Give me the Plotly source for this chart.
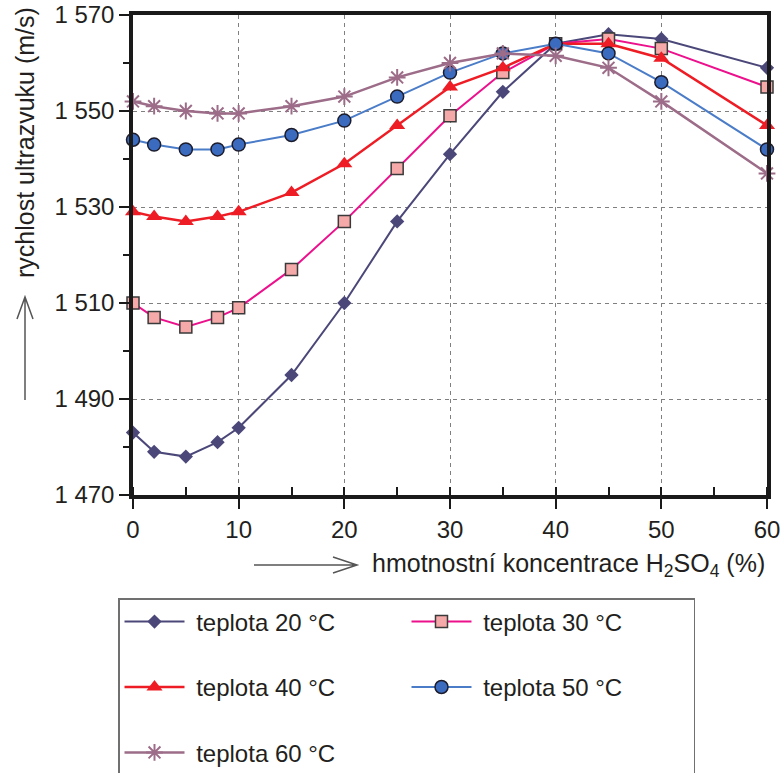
import plotly.graph_objects as go

# hmotnostní koncentrace H2SO4 (%)
konc = [0, 2, 5, 8, 10, 15, 20, 25, 30, 35, 40, 45, 50, 60]

# rychlost ultrazvuku (m/s) pro jednotlivé teploty
v20 = [1483, 1479, 1478, 1481, 1484, 1495, 1510, 1527, 1541, 1554, 1564, 1566, 1565, 1559]
v30 = [1510, 1507, 1505, 1507, 1509, 1517, 1527, 1538, 1549, 1558, 1564, 1565, 1563, 1555]
v40 = [1529, 1528, 1527, 1528, 1529, 1533, 1539, 1547, 1555, 1559, 1564, 1564, 1561, 1547]
v50 = [1544, 1543, 1542, 1542, 1543, 1545, 1548, 1553, 1558, 1562, 1564, 1562, 1556, 1542]
v60 = [1552, 1551, 1550, 1549.5, 1549.5, 1551, 1553, 1557, 1560, 1562, 1561.5, 1559, 1552, 1537]

nazvy = ["teplota 20 °C", "teplota 30 °C", "teplota 40 °C", "teplota 50 °C", "teplota 60 °C"]

x_ticks = [0, 10, 20, 30, 40, 50, 60]
y_ticks = [1470, 1490, 1510, 1530, 1550, 1570]
y_labels = ["1 470", "1 490", "1 510", "1 530", "1 550", "1 570"]

FONT = "Liberation Sans, Arial, sans-serif"
TXT = "#231f20"

# plot area in pixels (for the paper-coordinate decorations)
L, R, T, B = 133, 767, 15, 495


def px(x):
    return (x - L) / (R - L)


def py(y):
    return (B - y) / (B - T)


fig = go.Figure()

styles = [
    dict(line=dict(color="#4b4879", width=2),
         marker=dict(symbol="diamond", size=11, color="#4b4879", line=dict(width=0))),
    dict(line=dict(color="#ec108c", width=2),
         marker=dict(symbol="square", size=12, color="#f5aaa9", line=dict(color="#3a3a3a", width=1.5))),
    dict(line=dict(color="#ee1c24", width=2.5),
         marker=dict(symbol="triangle-up", size=14, color="#ee1c24", line=dict(width=0))),
    dict(line=dict(color="#4a7cc8", width=2),
         marker=dict(symbol="circle", size=13, color="#3b6bbf", line=dict(color="#1c1c2c", width=1.5))),
    dict(line=dict(color="#9c6c88", width=2.5),
         marker=dict(symbol="asterisk-open", size=14, color="#9c6c88", line=dict(color="#9c6c88", width=2))),
]

for name, vals, st in zip(nazvy, [v20, v30, v40, v50, v60], styles):
    fig.add_trace(go.Scatter(x=konc, y=vals, mode="lines+markers",
                             name="\u00a0" + name + "<br>\u00a0",
                             cliponaxis=False, **st))

fig.update_xaxes(range=[0, 60], tickvals=x_ticks, ticks="outside", ticklen=10, tickwidth=2,
                 tickcolor="#1a1a1a",
                 minor=dict(dtick=5, tick0=0, ticks="inside", ticklen=8, tickwidth=2,
                            tickcolor="#1a1a1a", showgrid=False),
                 showline=True, linewidth=3.5, linecolor="#1a1a1a", mirror=True,
                 showgrid=True, gridcolor="#808080", gridwidth=1.2, griddash="4px,4px",
                 zeroline=False, tickfont=dict(family=FONT, size=24, color=TXT))
fig.update_yaxes(range=[1470, 1570], tickvals=y_ticks, ticktext=y_labels, ticks="outside",
                 ticklen=10, tickwidth=2, tickcolor="#1a1a1a",
                 minor=dict(dtick=10, tick0=1470, ticks="outside", ticklen=6, tickwidth=2,
                            tickcolor="#1a1a1a", showgrid=False),
                 showline=True, linewidth=3.5, linecolor="#1a1a1a", mirror=True,
                 showgrid=True, gridcolor="#808080", gridwidth=1.2, griddash="4px,4px",
                 zeroline=False, tickfont=dict(family=FONT, size=24, color=TXT))

fig.add_annotation(text="rychlost ultrazvuku (m/s)", textangle=-90, xref="paper", yref="paper",
                   x=px(25), y=py(143), xanchor="center", yanchor="middle", showarrow=False,
                   font=dict(family=FONT, size=25, color=TXT))
fig.add_annotation(text="hmotnostní koncentrace H<sub>2</sub>SO<sub>4</sub> (%)",
                   xref="paper", yref="paper", x=px(370), y=py(565), xanchor="left",
                   yanchor="middle", showarrow=False, font=dict(family=FONT, size=25, color=TXT))

arrow = dict(color="#555555", width=1.5)
fig.add_shape(type="path", xref="paper", yref="paper", line=arrow,
              path=f"M{px(25)},{py(400)} L{px(25)},{py(297)} M{px(17)},{py(319)} "
                   f"L{px(25)},{py(297)} L{px(33)},{py(319)}")
fig.add_shape(type="path", xref="paper", yref="paper", line=arrow,
              path=f"M{px(254)},{py(565)} L{px(357)},{py(565)} M{px(333)},{py(557)} "
                   f"L{px(357)},{py(565)} L{px(333)},{py(573)}")

fig.update_layout(
    width=782, height=773,
    margin=dict(l=L, r=782 - R, t=T, b=773 - B, autoexpand=False),
    paper_bgcolor="white", plot_bgcolor="white",
    font=dict(family=FONT, color=TXT),
    legend=dict(orientation="h", x=px(118), y=py(598), xanchor="left", yanchor="top",
                entrywidth=212, itemwidth=60, valign="top",
                bordercolor="#707070", borderwidth=1.5, bgcolor="white",
                font=dict(family=FONT, size=24, color=TXT)),
)

fig.write_html("out.html", config={"displayModeBar": False},
               post_script="document.body.style.margin = '0';")
